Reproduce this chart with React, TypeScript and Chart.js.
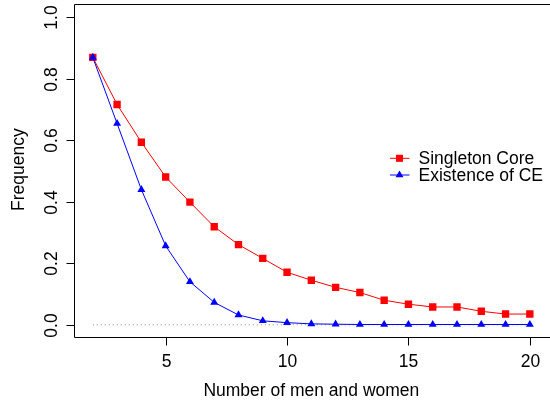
import React, { useEffect, useRef } from "react";
import { Chart, registerables } from "chart.js";

Chart.register(...registerables);

const nValues = [2, 3, 4, 5, 6, 7, 8, 9, 10, 11, 12, 13, 14, 15, 16, 17, 18, 19, 20];
const singletonCore = [0.87, 0.717, 0.594, 0.481, 0.399, 0.319, 0.261, 0.216, 0.171, 0.145, 0.122, 0.105, 0.08, 0.067, 0.058, 0.058, 0.044, 0.035, 0.035];
const existenceCE = [0.87, 0.655, 0.44, 0.257, 0.14, 0.073, 0.032, 0.013, 0.007, 0.003, 0.002, 0.001, 0.001, 0.001, 0.001, 0.001, 0.001, 0.001, 0.001];
const xTicks = [5, 10, 15, 20];
const yTicks = [0, 0.2, 0.4, 0.6, 0.8, 1.0];
const yTickLabels = ["0.0", "0.2", "0.4", "0.6", "0.8", "1.0"];
const seriesNames = ["Singleton Core", "Existence of CE"];
const xTitle = "Number of men and women";
const yTitle = "Frequency";

const FONT = '17.5px "Liberation Sans", Arial, sans-serif';

const axesPlugin = {
  id: "rAxes",
  afterDraw(chart: any) {
    const ctx = chart.ctx;
    const xs = chart.scales.x;
    const ys = chart.scales.y;
    const area = chart.chartArea;
    ctx.save();
    ctx.strokeStyle = "#000";
    ctx.fillStyle = "#000";
    ctx.lineWidth = 1;
    const L = Math.round(area.left) - 0.5;
    const B = Math.round(area.bottom) + 0.5;
    const T = Math.round(area.top) - 0.5;
    ctx.beginPath();
    ctx.moveTo(560, T);
    ctx.lineTo(L, T);
    ctx.lineTo(L, B);
    ctx.lineTo(560, B);
    ctx.stroke();
    ctx.font = FONT;
    // y ticks
    yTicks.forEach((v, i) => {
      const py = Math.round(ys.getPixelForValue(v)) + 0.5;
      ctx.beginPath();
      ctx.moveTo(L - 8, py);
      ctx.lineTo(L, py);
      ctx.stroke();
      ctx.save();
      ctx.translate(57, py);
      ctx.rotate(-Math.PI / 2);
      ctx.textAlign = "center";
      ctx.textBaseline = "alphabetic";
      ctx.fillText(yTickLabels[i], 0, 0);
      ctx.restore();
    });
    // x ticks
    xTicks.forEach((v) => {
      const px = Math.round(xs.getPixelForValue(v)) + 0.5;
      ctx.beginPath();
      ctx.moveTo(px, B);
      ctx.lineTo(px, B + 8);
      ctx.stroke();
      ctx.textAlign = "center";
      ctx.textBaseline = "alphabetic";
      ctx.fillText(String(v), px, 366.5);
    });
    // titles
    ctx.textAlign = "center";
    ctx.textBaseline = "alphabetic";
    ctx.fillText(xTitle, (area.left + xs.getPixelForValue(20.72)) / 2, 396);
    ctx.save();
    ctx.translate(23.5, (area.top + area.bottom) / 2 - 1.5);
    ctx.rotate(-Math.PI / 2);
    ctx.fillText(yTitle, 0, 0);
    ctx.restore();
    // legend
    const items = [
      { name: seriesNames[0], color: "#FF0000", style: "rect", r: 5 },
      { name: seriesNames[1], color: "#0000FF", style: "triangle", r: 4.6 },
    ];
    items.forEach((it, i) => {
      const y = 158.3 + i * 16.7;
      ctx.strokeStyle = it.color;
      ctx.lineWidth = 1;
      ctx.beginPath();
      ctx.moveTo(390, y);
      ctx.lineTo(409.5, y);
      ctx.stroke();
      ctx.fillStyle = it.color;
      ctx.beginPath();
      if (it.style === "rect") {
        const s = it.r * Math.SQRT1_2;
        ctx.rect(399.5 - s, y - s, 2 * s, 2 * s);
      } else {
        const r = it.r;
        ctx.moveTo(399.5, y - r);
        ctx.lineTo(399.5 + r * 0.866, y + r * 0.5);
        ctx.lineTo(399.5 - r * 0.866, y + r * 0.5);
        ctx.closePath();
      }
      ctx.fill();
      ctx.fillStyle = "#000";
      ctx.textAlign = "left";
      ctx.textBaseline = "middle";
      ctx.fillText(it.name, 418.5, y + 1);
    });
    ctx.restore();
  },
};

export default function App() {
  const ref = useRef<HTMLCanvasElement | null>(null);
  useEffect(() => {
    if (!ref.current) return;
    const chart = new Chart(ref.current, {
      type: "scatter",
      data: {
        datasets: [
          {
            label: "zero",
            data: [
              { x: nValues[0], y: 0 },
              { x: nValues[nValues.length - 1], y: 0 },
            ],
            showLine: true,
            borderColor: "#888888",
            borderWidth: 1,
            borderDash: [1, 3],
            pointRadius: 0,
            order: 3,
          },
          {
            label: seriesNames[0],
            data: nValues.map((n, i) => ({ x: n, y: singletonCore[i] })),
            showLine: true,
            borderColor: "#FF0000",
            backgroundColor: "#FF0000",
            borderWidth: 1,
            pointStyle: "rect",
            pointRadius: 5.2,
            pointBorderWidth: 0,
            pointBackgroundColor: "#FF0000",
            order: 2,
          },
          {
            label: seriesNames[1],
            data: nValues.map((n, i) => ({ x: n, y: existenceCE[i] })),
            showLine: true,
            borderColor: "#0000FF",
            backgroundColor: "#0000FF",
            borderWidth: 1,
            pointStyle: "triangle",
            pointRadius: 4.6,
            pointBorderWidth: 0,
            pointBackgroundColor: "#0000FF",
            order: 1,
          },
        ],
      },
      options: {
        responsive: false,
        animation: false,
        devicePixelRatio: 1,
        layout: { padding: { left: 75.4, right: 0, top: 3.65, bottom: 69.9 } },
        plugins: { legend: { display: false }, tooltip: { enabled: false } },
        scales: {
          x: { type: "linear", min: 1.283, max: 20.616, display: false },
          y: { type: "linear", min: -0.04, max: 1.04, display: false },
        },
      },
      plugins: [axesPlugin],
    });
    return () => chart.destroy();
  }, []);
  return (
    <div style={{ position: "fixed", left: 0, top: 0, width: 550, height: 407, background: "#fff" }}>
      <canvas ref={ref} width={550} height={407} style={{ display: "block" }} />
    </div>
  );
}
